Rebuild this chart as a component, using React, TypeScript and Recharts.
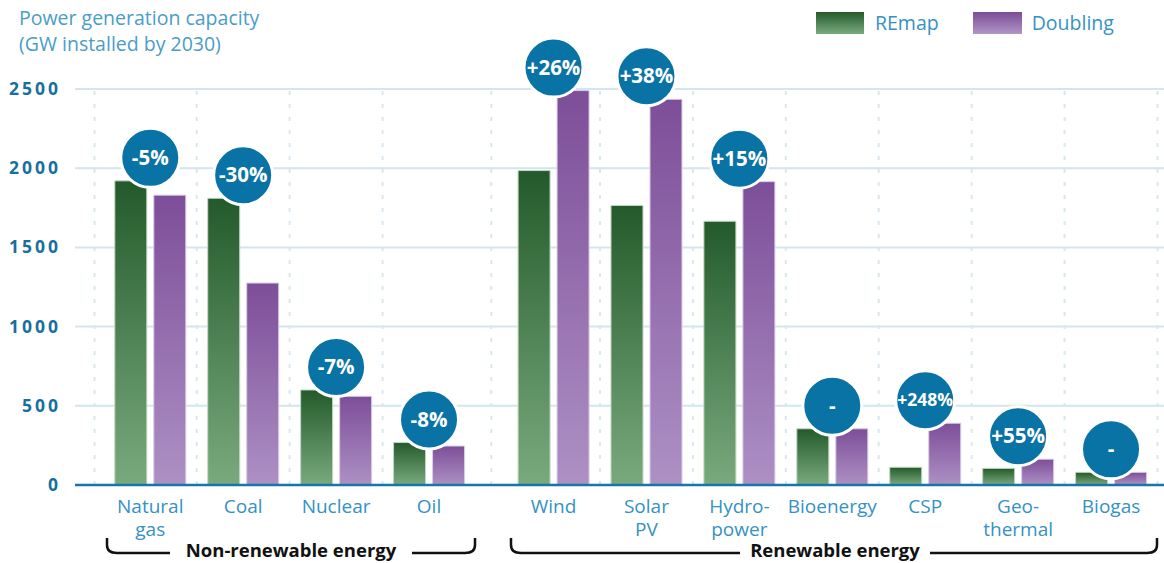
import { ComposedChart, Bar, Scatter, XAxis, YAxis, CartesianGrid, ReferenceLine } from 'recharts';

const categories = [
  ['Natural', 'gas'],
  ['Coal'],
  ['Nuclear'],
  ['Oil'],
  ['Wind'],
  ['Solar', 'PV'],
  ['Hydro-', 'power'],
  ['Bioenergy'],
  ['CSP'],
  ['Geo-', 'thermal'],
  ['Biogas'],
];
const remap = [1920, 1810, 600, 268, 1985, 1765, 1665, 355, 112, 105, 80];
const doubling = [1830, 1275, 560, 246, 2490, 2435, 1915, 355, 390, 163, 80];
const changes = ['-5%', '-30%', '-7%', '-8%', '+26%', '+38%', '+15%', '-', '+248%', '+55%', '-'];
const yTicks = [0, 500, 1000, 1500, 2000, 2500];

// first renewable category; the renewable group is pushed right by GROUP_GAP slots
const RENEWABLE_START = 4;
const GROUP_GAP = 0.34;

const W = 1164;
const H = 563;
const BLUE = '#0a73a5';
const LABEL_BLUE = '#3592c2';
const FONT = '"Open Sans", "DejaVu Sans", sans-serif';

const slots = categories.map((_, i) => i + (i >= RENEWABLE_START ? GROUP_GAP : 0));

const data = categories.map((c, i) => ({
  slot: slots[i],
  remap: remap[i],
  doubling: doubling[i],
  peak: Math.max(remap[i], doubling[i]),
  change: changes[i],
}));

// dotted separators: midway between neighbours, plus the two outer edges
const separators = [
  slots[0] - 0.6,
  ...slots.slice(1).map((s, i) => (s + slots[i]) / 2),
  slots[slots.length - 1] + 0.5,
];

const CategoryTick = (props: any) => {
  const { x, y, payload } = props;
  const idx = slots.findIndex((s) => Math.abs(s - payload.value) < 1e-6);
  const lines = idx >= 0 ? categories[idx] : [];
  return (
    <g>
      {lines.map((l, i) => (
        <text key={i} x={x} y={y + 20 + i * 22.5} textAnchor="middle" fill={LABEL_BLUE} fontSize={19} fontFamily={FONT}>
          {l}
        </text>
      ))}
    </g>
  );
};

const ValueTick = (props: any) => {
  const { x, y, payload } = props;
  return (
    <text x={x - 6} y={y} dy={6} textAnchor="end" fill="#16709e" fontSize={17.5} fontWeight={700} fontFamily={FONT} letterSpacing={3}>
      {payload.value}
    </text>
  );
};

const Bubble = (props: any) => {
  const { cx, cy, payload } = props;
  const by = cy - 23;
  const long = payload.change.length > 4;
  return (
    <g>
      <circle cx={cx} cy={by} r={29.5} fill={BLUE} stroke="#fff" strokeWidth={3} />
      <text x={cx} y={by} dy={long ? 6 : 7} textAnchor="middle" fill="#fff" fontSize={long ? 17.5 : 20.5} fontWeight={700} fontFamily={FONT}>
        {payload.change}
      </text>
    </g>
  );
};

const Bracket = ({ x1, x2, textL, textR, label }: { x1: number; x2: number; textL: number; textR: number; label: string }) => (
  <g>
    <path d={`M${x1},538 V545 Q${x1},553 ${x1 + 10},553 H${textL}`} fill="none" stroke="#111" strokeWidth={2.5} />
    <path d={`M${textR},553 H${x2 - 10} Q${x2},553 ${x2},545 V538`} fill="none" stroke="#111" strokeWidth={2.5} />
    <text x={(textL + textR) / 2} y={557} textAnchor="middle" fill="#111" fontSize={18.5} fontWeight={700} fontFamily={FONT}>
      {label}
    </text>
  </g>
);

export default function App() {
  return (
    <div style={{ position: 'absolute', left: 0, top: 0, width: W, height: H, background: '#fff', fontFamily: FONT }}>
      <div style={{ position: 'absolute', left: 19, top: 5, color: '#4a9dc6', fontSize: 19.5, lineHeight: '26px' }}>
        Power generation capacity
        <br />
        (GW installed by 2030)
      </div>
      <div style={{ position: 'absolute', left: 816, top: 9, display: 'flex', alignItems: 'center', color: LABEL_BLUE, fontSize: 19.5 }}>
        <span style={{ width: 48, height: 22, background: 'linear-gradient(#245a2b, #7aab7e)', marginRight: 11 }} />
        <span style={{ marginRight: 34 }}>REmap</span>
        <span style={{ width: 49, height: 22, background: 'linear-gradient(#7b4c98, #b096c6)', marginRight: 10 }} />
        <span>Doubling</span>
      </div>
      <ComposedChart width={W} height={H} data={data} margin={{ top: 89, right: 0, bottom: 0, left: 0 }} barSize={32} barGap={7}>
        <defs>
          <linearGradient id="gradGreen" x1="0" y1="0" x2="0" y2="1">
            <stop offset="0%" stopColor="#245a2b" />
            <stop offset="100%" stopColor="#79aa7d" />
          </linearGradient>
          <linearGradient id="gradPurple" x1="0" y1="0" x2="0" y2="1">
            <stop offset="0%" stopColor="#7d4e99" />
            <stop offset="100%" stopColor="#ad90c4" />
          </linearGradient>
        </defs>
        <CartesianGrid vertical={false} stroke="#d3e6ee" strokeWidth={2} />
        {separators.map((s) => (
          <ReferenceLine key={s} x={s} stroke="#d8e8f0" strokeWidth={2} strokeDasharray="4 9" />
        ))}
        <XAxis
          type="number"
          dataKey="slot"
          domain={[-0.81, 10.91]}
          ticks={slots}
          interval={0}
          allowDataOverflow
          height={78}
          tickLine={false}
          axisLine={{ stroke: '#1776a8', strokeWidth: 2.5 }}
          tick={<CategoryTick />}
        />
        <YAxis
          domain={[0, 2500]}
          ticks={yTicks}
          width={75}
          axisLine={false}
          tickLine={false}
          tick={<ValueTick />}
        />
        <Bar dataKey="remap" fill="url(#gradGreen)" stroke="#c3d7c4" strokeWidth={1} isAnimationActive={false} />
        <Bar dataKey="doubling" fill="url(#gradPurple)" stroke="#d9cce5" strokeWidth={1} isAnimationActive={false} />
        <Scatter dataKey="peak" shape={<Bubble />} isAnimationActive={false} />
      </ComposedChart>
      <svg width={W} height={H} style={{ position: 'absolute', left: 0, top: 0, pointerEvents: 'none' }}>
        <Bracket x1={107} x2={475} textL={170} textR={412} label="Non-renewable energy" />
        <Bracket x1={511} x2={1157} textL={740} textR={930} label="Renewable energy" />
      </svg>
    </div>
  );
}
